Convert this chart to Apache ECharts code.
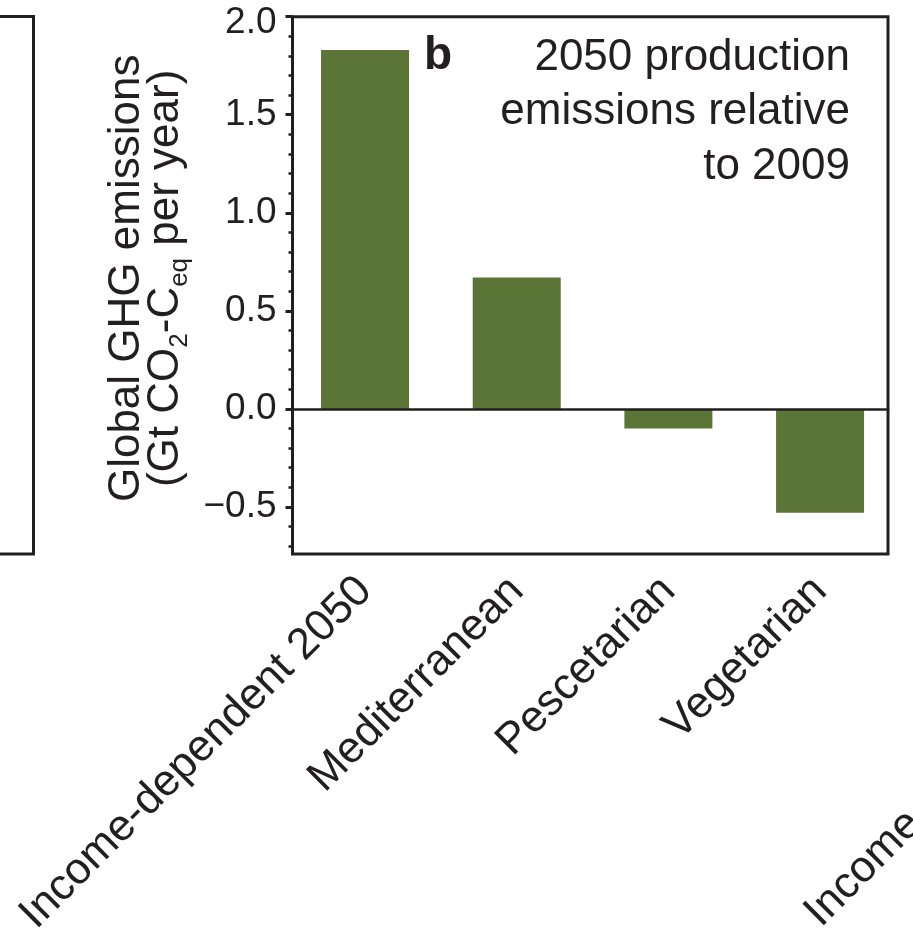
<!DOCTYPE html>
<html>
<head>
<meta charset="utf-8">
<script src="https://cdn.jsdelivr.net/npm/echarts@6/dist/echarts.min.js"></script>
<style>
  html, body { margin: 0; padding: 0; background: #ffffff; }
  #chart { width: 913px; height: 932px; }
</style>
</head>
<body>
<div id="chart"></div>
<script>
// Diet scenarios and their 2050 production emissions relative to 2009 (Gt CO2-Ceq per year)
const categories = ['Income-dependent 2050', 'Mediterranean', 'Pescetarian', 'Vegetarian'];
const emissionChange = [1.83, 0.67, -0.10, -0.53];

// Value axis range and tick positions
const yMin = -0.74;
const yMax = 2.0;
const majorTicks = [-0.5, 0, 0.5, 1.0, 1.5, 2.0];
const minorTicks = [-0.7, -0.6, -0.4, -0.3, -0.2, -0.1, 0.1, 0.2, 0.3, 0.4,
                    0.6, 0.7, 0.8, 0.9, 1.1, 1.2, 1.3, 1.4, 1.6, 1.7, 1.8, 1.9];

const INK = '#231f20';
const BAR = '#5b7537';
const FONT = '"Liberation Sans", Arial, Helvetica, sans-serif';

const chart = echarts.init(document.getElementById('chart'), null, { renderer: 'canvas' });

const frame = { left: 292.5, top: 16.7, width: 595.5, height: 537.3 };
// bar layout grid shares the vertical extent of the frame
const barGrid = { left: 289.2, top: 16.7, width: 606.7, height: 537.3 };

const option = {
  backgroundColor: '#ffffff',
  animation: false,
  textStyle: { fontFamily: FONT, color: INK },
  title: [
    {
      text: 'b',
      left: 424,
      top: 33,
      padding: 0,
      textStyle: { fontFamily: FONT, fontSize: 46, fontWeight: 'bold', color: INK, lineHeight: 46 }
    }
  ],
  grid: [
    Object.assign({
      show: true, borderColor: INK, borderWidth: 3, backgroundColor: 'transparent', z: 10,
      containLabel: false, outerBoundsMode: 'none'
    }, frame),
    Object.assign({ show: false, containLabel: false, outerBoundsMode: 'none' }, barGrid)
  ],
  xAxis: [
    {
      gridIndex: 0, type: 'value', min: 0, max: 1, z: 10,
      axisLine: { show: true, onZero: true, lineStyle: { color: INK, width: 2.5 } },
      axisTick: { show: false }, axisLabel: { show: false }, splitLine: { show: false }
    },
    {
      gridIndex: 1, type: 'category', data: categories,
      axisLine: { show: false, onZero: false },
      axisTick: { show: false },
      splitLine: { show: false },
      axisLabel: {
        interval: 0, rotate: 45, margin: 30,
        fontFamily: FONT, fontSize: 44, color: INK
      }
    }
  ],
  yAxis: [
    {
      gridIndex: 0, type: 'value', position: 'left', min: yMin, max: yMax, z: 10,
      axisLine: { show: false },
      splitLine: { show: false },
      axisTick: {
        show: true, inside: false, length: 7, customValues: majorTicks,
        lineStyle: { color: INK, width: 3 }
      },
      axisLabel: {
        show: true, margin: 16, customValues: majorTicks,
        fontFamily: FONT, fontSize: 37, color: INK,
        formatter: function (v) {
          const s = Number(v).toFixed(1).replace('-', '\u2212');
          return v >= 2 ? '{t|' + s + '}' : s;
        },
        rich: { t: { fontFamily: FONT, fontSize: 37, color: INK, padding: [12, 0, 0, 0] } }
      },
      name: '{a|Global GHG emissions}\n{m|(Gt CO}{s|2}{m|-C}{s|eq}{m| per year)}',
      nameLocation: 'middle',
      nameRotate: 90,
      nameGap: 82,
      nameTextStyle: {
        fontFamily: FONT, color: INK, padding: [0, 0, 0, 14],
        rich: {
          a: { fontFamily: FONT, fontSize: 44, lineHeight: 48, color: INK },
          m: { fontFamily: FONT, fontSize: 44, lineHeight: 30, color: INK },
          s: { fontFamily: FONT, fontSize: 26, lineHeight: 26, padding: [27, 0, 0, 0], color: INK }
        }
      }
    },
    {
      gridIndex: 0, type: 'value', position: 'left', min: yMin, max: yMax, z: 10,
      axisLine: { show: false }, splitLine: { show: false }, axisLabel: { show: false },
      axisTick: {
        show: true, inside: false, length: 4, customValues: minorTicks,
        lineStyle: { color: INK, width: 2.5 }
      }
    },
    {
      gridIndex: 1, type: 'value', min: yMin, max: yMax, show: false
    }
  ],
  series: [
    {
      type: 'bar',
      xAxisIndex: 1,
      yAxisIndex: 2,
      data: emissionChange,
      barWidth: 88,
      itemStyle: { color: BAR },
      emphasis: { disabled: true }
    }
  ],
  graphic: [
    // panel caption, right-aligned in the upper corner
    {
      type: 'text',
      x: 850, y: 30.5,
      style: {
        text: '2050 production\nemissions relative\nto 2009',
        fontFamily: FONT, fontSize: 44, lineHeight: 54.5,
        fill: INK, align: 'right', verticalAlign: 'top'
      },
      silent: true
    },
    // edge of the neighbouring panel on the left
    {
      type: 'polyline',
      shape: { points: [[0, 16.5], [33.5, 16.5], [33.5, 554], [0, 554]] },
      style: { stroke: INK, lineWidth: 3, fill: null },
      silent: true
    },
    // first category label of the neighbouring panel on the right
    {
      type: 'text',
      x: 828, y: 935,
      rotation: Math.PI / 4,
      style: {
        text: 'Income-dependent 2050',
        fontFamily: FONT, fontSize: 44, lineHeight: 44,
        fill: INK, align: 'left', verticalAlign: 'bottom'
      },
      silent: true
    }
  ]
};

chart.setOption(option);
</script>
</body>
</html>
